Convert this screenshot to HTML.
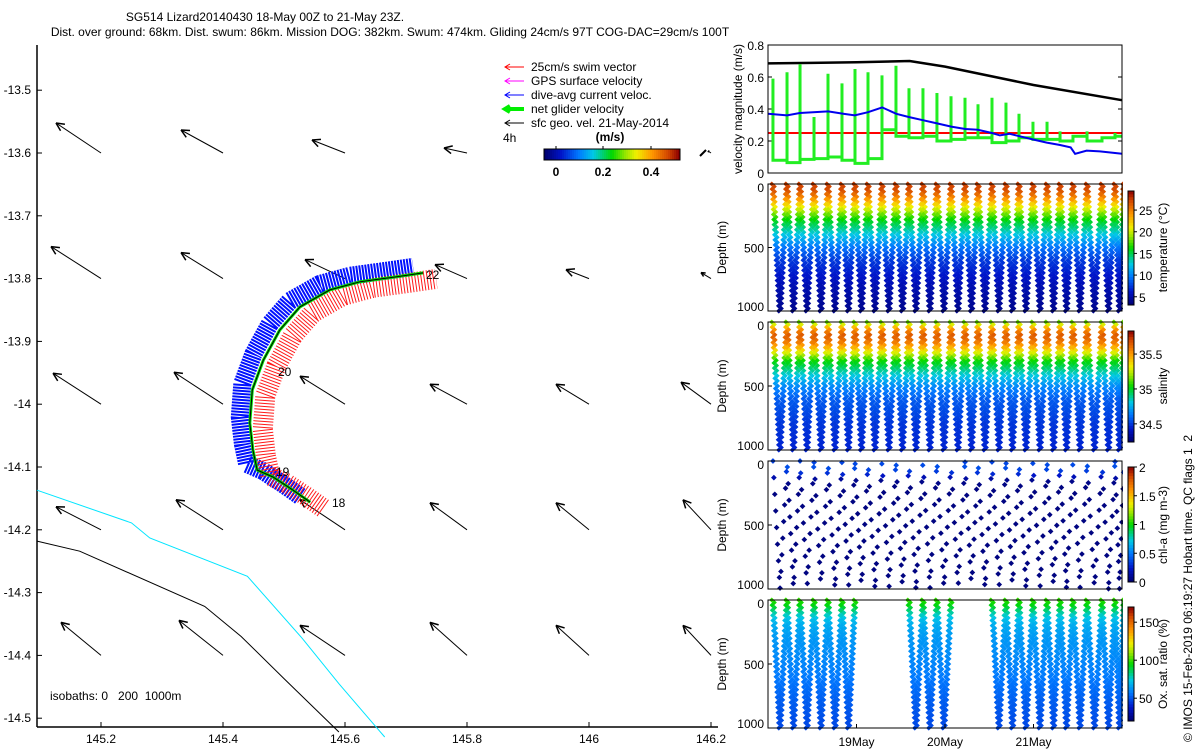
<!DOCTYPE html>
<html><head><meta charset="utf-8"><style>
html,body{margin:0;padding:0;background:#fff;}
svg{display:block;font-family:"Liberation Sans",sans-serif;}
text{font-size:12px;fill:#000;}
</style></head><body>
<svg id="fig" width="1200" height="750" viewBox="0 0 1200 750" xmlns="http://www.w3.org/2000/svg">
<text x="265" y="21" text-anchor="middle">SG514 Lizard20140430 18-May 00Z to 21-May 23Z.</text>
<text x="390" y="36" text-anchor="middle">Dist. over ground: 68km. Dist. swum: 86km. Mission DOG: 382km. Swum: 474km. Gliding 24cm/s 97T COG-DAC=29cm/s 100T</text>
<g id="map"></g>
<g id="right"></g>
<text transform="translate(1192,742) rotate(-90)">© IMOS 15-Feb-2019 06:19:27 Hobart time. QC flags 1&#160; 2</text>
</svg>
<script>
// ---------- MAP DATA ----------
const mapLonTicks=[145.2,145.4,145.6,145.8,146,146.2];
const mapLonLabels=["145.2","145.4","145.6","145.8","146","146.2"];
const mapLatTicks=[-13.5,-13.6,-13.7,-13.8,-13.9,-14,-14.1,-14.2,-14.3,-14.4,-14.5];
const geoLon=[145.2,145.4,145.6,145.8,146,146.2];
const geoLat=[-13.6,-13.8,-14.0,-14.2,-14.4];
const geoU=[[-0.18,-0.168,-0.132,-0.092,0,-0.012],[-0.2,-0.168,-0.16,-0.128,-0.092,-0.04],[-0.192,-0.196,-0.18,-0.148,-0.132,-0.12],[-0.18,-0.188,-0.18,-0.148,-0.132,-0.112],[-0.16,-0.176,-0.18,-0.148,-0.132,-0.112]];
const geoV=[[0.12,0.092,0.052,0.02,0,0.008],[0.128,0.104,0.076,0.056,0.036,0.024],[0.124,0.128,0.112,0.08,0.08,0.088],[0.092,0.12,0.12,0.108,0.108,0.12],[0.132,0.14,0.12,0.132,0.12,0.12]];
const trackLon=[145.543,145.515,145.482,145.456,145.449,145.444,145.448,145.466,145.493,145.526,145.575,145.625,145.685,145.728];
const trackLat=[-14.156,-14.137,-14.116,-14.105,-14.073,-14.030,-13.977,-13.930,-13.882,-13.845,-13.818,-13.805,-13.797,-13.791];
const iso200Lon=[145.095,145.25,145.28,145.44,145.53,145.59,145.665];
const iso200Lat=[-14.137,-14.189,-14.213,-14.274,-14.373,-14.445,-14.53];
const iso1000Lon=[145.095,145.165,145.37,145.43,145.5,145.59];
const iso1000Lat=[-14.218,-14.234,-14.322,-14.37,-14.437,-14.522];

// ---------- TIME SERIES DATA (days since 18 May 00Z) ----------
const diveT=[0.056,0.215,0.362,0.52,0.678,0.836,0.983,1.13,1.288,1.446,1.593,1.751,1.909,2.068,2.226,2.373,2.531,2.689,2.836,2.994,3.153,3.3,3.446,3.605,3.774,3.921];
const greenTop=[0.59,0.63,0.68,0.35,0.62,0.56,0.65,0.63,0.61,0.67,0.53,0.53,0.50,0.48,0.47,0.43,0.47,0.44,0.37,0.32,0.32,0.26,0.20,0.26,0.22,0.25];
const greenBase=[0.08,0.065,0.085,0.09,0.10,0.08,0.06,0.09,0.27,0.23,0.22,0.23,0.20,0.21,0.22,0.22,0.19,0.20,0.22,0.21,0.21,0.20,0.23,0.20,0.22,0.23];
const geoT=[0,0.5,1.0,1.6,2.0,3.0,4.0];
const geoSpeed=[0.685,0.688,0.692,0.70,0.665,0.55,0.455];
const dacT=[0,0.215,0.36,0.68,0.85,0.98,1.13,1.29,1.45,1.59,1.75,1.91,2.07,2.23,2.37,2.53,2.62,2.73,2.84,2.99,3.15,3.3,3.42,3.47,3.6,3.75,4.0];
const dacSpeed=[0.37,0.36,0.375,0.385,0.37,0.36,0.38,0.41,0.37,0.35,0.33,0.31,0.29,0.275,0.27,0.25,0.235,0.245,0.23,0.21,0.19,0.175,0.16,0.12,0.14,0.135,0.12];
const swimSpeed=0.25;
const profDepth=[0,50,100,150,200,250,300,400,500,600,800,1000];
const tempProf=[27.5,27,25,22.5,20,17.5,15.5,12.5,9.5,7.5,5.5,4.2];
const salProf=[35.15,35.5,35.65,35.6,35.45,35.25,35.05,34.85,34.68,34.58,34.5,34.46];
const chlProf=[0.35,0.4,0.3,0.08,0.05,0.05,0.05,0.05,0.05,0.05,0.05,0.05];
const oxProf=[100,92,80,72,68,66,64,62,60,58,52,48];
const oxDives=[0,1,2,3,4,5,10,11,12,16,17,18,19,20,21,22,23,24,25];
const dayTicks=[1,2,3];
const dayLabels=["19May","20May","21May"];

const NS="http://www.w3.org/2000/svg";
function mk(parent,tag,attrs){const e=document.createElementNS(NS,tag);for(const k in attrs)e.setAttribute(k,attrs[k]);parent.appendChild(e);return e;}
function txt(parent,x,y,s,anchor,extra){const t=mk(parent,'text',Object.assign({x:x,y:y,'text-anchor':anchor||'start'},extra||{}));t.textContent=s;return t;}
const CM=[[0,0,0,110],[0.12,0,20,200],[0.25,0,120,255],[0.36,0,200,230],[0.5,0,215,0],[0.6,150,230,0],[0.68,240,240,0],[0.8,255,150,0],[0.92,210,70,0],[1,140,0,0]];
function jet(v){v=Math.max(0,Math.min(1,v));for(let i=1;i<CM.length;i++){if(v<=CM[i][0]){const a=CM[i-1],b=CM[i],f=(v-a[0])/(b[0]-a[0]);return `rgb(${Math.round(a[1]+f*(b[1]-a[1]))},${Math.round(a[2]+f*(b[2]-a[2]))},${Math.round(a[3]+f*(b[3]-a[3]))})`;}}return 'rgb(140,0,0)';}
function interp(xs,ys,x){if(x<=xs[0])return ys[0];for(let i=1;i<xs.length;i++){if(x<=xs[i]){const f=(x-xs[i-1])/(xs[i]-xs[i-1]);return ys[i-1]+f*(ys[i]-ys[i-1]);}}return ys[ys.length-1];}

// ---------- MAP ----------
const map=document.getElementById('map');
const mx=lon=>101+(lon-145.2)*610;
const my=lat=>153+(-13.6-lat)*628;
const mL=37,mR=718,mT=45,mB=727;
mk(map,'line',{x1:mL,y1:mT,x2:mL,y2:mB,stroke:'#000','stroke-width':1.5});
mk(map,'line',{x1:mL,y1:mB,x2:mR,y2:mB,stroke:'#000','stroke-width':1.5});
mapLonTicks.forEach((v,i)=>{const x=mx(v);
 const tk=mk(map,'line',{x1:x,y1:mB,x2:x,y2:mB-5,stroke:'#000'});
 
 const t=txt(map,x,743,mapLonLabels[i],'middle');
 });
mapLatTicks.forEach(v=>{const y=my(v);
 const tk=mk(map,'line',{x1:mL,y1:y,x2:mL+5,y2:y,stroke:'#000'});
 
 const t=txt(map,31,y+4,String(v),'end');
 });
function pl(lons,lats){return lons.map((l,i)=>mx(l).toFixed(1)+','+my(lats[i]).toFixed(1)).join(' ');}
const i2=mk(map,'polyline',{points:pl(iso200Lon,iso200Lat),fill:'none',stroke:'#00e5ff','stroke-width':1});

const i1=mk(map,'polyline',{points:pl(iso1000Lon,iso1000Lat),fill:'none',stroke:'#000','stroke-width':1});

const gs=250;
geoLat.forEach((la,r)=>geoLon.forEach((lo,c)=>{
 const x0=mx(lo),y0=my(la),dx=geoU[r][c]*gs,dy=-geoV[r][c]*gs;
 const len=Math.hypot(dx,dy);if(len<1)return;
 const g=mk(map,'g',{});
 
 const x1=x0+dx,y1=y0+dy;mk(g,'line',{x1:x0,y1:y0,x2:x1,y2:y1,stroke:'#000','stroke-width':1});
 const a=Math.atan2(dy,dx),h=Math.min(9,len*0.4);
 [0.45,-0.45].forEach(s=>mk(g,'line',{x1:x1,y1:y1,x2:x1-h*Math.cos(a+s),y2:y1-h*Math.sin(a+s),stroke:'#000','stroke-width':1.5}));
}));
const tp=pl(trackLon,trackLat);
const dac=mk(map,'polyline',{points:tp,fill:'none',stroke:'#0010ff','stroke-width':18,'stroke-dasharray':'2 1','transform':'translate(-10,-6)','stroke-linejoin':'round'});

const sw=mk(map,'polyline',{points:tp,fill:'none',stroke:'#ff1a1a','stroke-width':20,'stroke-dasharray':'1 2','transform':'translate(13,6)','stroke-linejoin':'round'});

const ng=mk(map,'polyline',{points:tp,fill:'none',stroke:'#00e000','stroke-width':3});

mk(map,'polyline',{points:tp,fill:'none',stroke:'#000','stroke-width':1});
[['18',332,507],['19',276,476],['20',278,376],['22',426,279]].forEach(d=>{const t=txt(map,d[1],d[2],d[0]);});
txt(map,50,700,'isobaths: 0\u00a0\u00a0\u00a0200\u00a0\u00a01000m');
const lg=mk(map,'g',{});
const legItems=[['25cm/s swim vector','#ff0000',1],['GPS surface velocity','#ff00ff',1],['dive-avg current veloc.','#0000ff',1],['net glider velocity','#00ee00',4],['sfc geo. vel. 21-May-2014','#000',1]];
legItems.forEach((it,i)=>{const y=67+i*14;
 const e=mk(lg,'g',{});
 mk(e,'line',{x1:505,y1:y,x2:524,y2:y,stroke:it[1],'stroke-width':it[2]});
 mk(e,'polyline',{points:`${510},${y-3} ${505},${y} ${510},${y+3}`,fill:'none',stroke:it[1],'stroke-width':it[2]});
 txt(e,531,y+4,it[0]);});
txt(lg,503,142,'4h');
txt(lg,610,141,'(m/s)','middle',{'font-weight':'bold','font-size':'13px'});
const cbg=mk(lg,'g',{});
for(let i=0;i<68;i++)mk(cbg,'rect',{x:544+i*2,y:149,width:2.2,height:11,fill:jet(i/67)});
mk(cbg,'rect',{x:544,y:149,width:136,height:11,fill:'none',stroke:'#000'});
[['0',556],['0.2',603],['0.4',651]].forEach(d=>{mk(cbg,'line',{x1:d[1],y1:149,x2:d[1],y2:146,stroke:'#000'});txt(cbg,d[1],176,d[0],'middle',{'font-weight':'bold','font-size':'13px'});});
mk(map,'line',{x1:700,y1:156,x2:706,y2:150,stroke:'#000','stroke-width':2});

// ---------- RIGHT PANELS ----------
const R=document.getElementById('right');
const X0=768,X1=1122;const tx=t=>X0+t/4*(X1-X0);
function frame(g,top,bot){mk(g,'rect',{x:X0,y:top,width:X1-X0,height:bot-top,fill:'none',stroke:'#000','stroke-width':1});}
const vp=mk(R,'g',{});
const vT=45,vB=173;const vy=v=>vB-v/0.8*(vB-vT);
[0,0.2,0.4,0.6,0.8].forEach(v=>{const y=vy(v);mk(vp,'line',{x1:X0,y1:y,x2:X0+4,y2:y,stroke:'#000'});mk(vp,'line',{x1:X1,y1:y,x2:X1-4,y2:y,stroke:'#000'});const t=txt(vp,764,y+5,String(v),'end',{'font-size':'13px'});});
txt(vp,0,0,'velocity magnitude (m/s)','middle',{transform:`translate(742,${(vT+vB)/2}) rotate(-90)`,'font-size':'13px'});
const rl=mk(vp,'line',{x1:X0,y1:vy(swimSpeed),x2:X1,y2:vy(swimSpeed),stroke:'#ff0000','stroke-width':2});

const bl=mk(vp,'polyline',{points:geoT.map((t,i)=>tx(t)+','+vy(geoSpeed[i])).join(' '),fill:'none',stroke:'#000','stroke-width':2.5});

let gp=[];diveT.forEach((t,i)=>{const x=tx(t),xn=i<diveT.length-1?tx(diveT[i+1]):X1;
 if(i>0)gp.push(x+','+vy(greenBase[i-1]));gp.push(x+','+vy(greenTop[i]));gp.push(x+','+vy(greenBase[i]));gp.push(xn+','+vy(greenBase[i]));});
const gl=mk(vp,'polyline',{points:gp.join(' '),fill:'none',stroke:'#22ee22','stroke-width':3});

const dl=mk(vp,'polyline',{points:dacT.map((t,i)=>tx(t)+','+vy(dacSpeed[i])).join(' '),fill:'none',stroke:'#0000ee','stroke-width':2});

frame(vp,vT,vB);

const panels=[
 {name:'temperature',top:184,bot:311,prof:tempProf,vmin:3.1,vmax:29.4,ticks:[5,10,15,20,25],labels:['5','10','15','20','25'],cbT:191,cbB:305,title:'temperature (°C)',dives:null,sparse:false},
 {name:'salinity',top:322,bot:450,prof:salProf,vmin:34.24,vmax:35.83,ticks:[34.5,35,35.5],labels:['34.5','35','35.5'],cbT:331,cbB:442,title:'salinity',dives:null,sparse:false},
 {name:'chlorophyll',top:461,bot:589,prof:chlProf,vmin:0,vmax:2,ticks:[0,0.5,1,1.5,2],labels:['0','0.5','1','1.5','2'],cbT:467,cbB:582,title:'chl-a (mg m-3)',dives:null,sparse:true},
 {name:'oxygen',top:600,bot:728,prof:oxProf,vmin:20,vmax:170,ticks:[50,100,150],labels:['50','100','150'],cbT:607,cbB:721,title:'Ox. sat. ratio (%)',dives:oxDives,sparse:false}
];
panels.forEach(P=>{
 const g=mk(R,'g',{});
 const dy=d=>P.top+d/1000*(P.bot-P.top);
 const list=P.dives||diveT.map((_,i)=>i);
 list.forEach(i=>{
  const xs=tx(diveT[i]),xe=i<diveT.length-1?tx(diveT[i+1]):X1+2,xm=(xs+xe)/2;
  const legs=[[xs,xm,1],[xm,xe,-1]];
  legs.forEach((L,li)=>{
   if(P.sparse){
    const off=(i*47+li*83)%130;
    for(let d=off;d<=1000;d+=130){const x=L[2]>0?L[0]+(L[1]-L[0])*d/1000:L[0]+(L[1]-L[0])*(1-d/1000);
     const p=mk(g,'rect',{x:x-2,y:dy(d)-2,width:4,height:4,fill:jet((interp(profDepth,P.prof,d)-P.vmin)/(P.vmax-P.vmin)),transform:`rotate(45 ${x} ${dy(d)})`});
     }
   }else{
    for(let d=0;d<=1000;d+=20){const f=L[2]>0?d/1000:1-d/1000;const x=L[0]+(L[1]-L[0])*f+((d/20)%2?1.2:-1.2);
     const p=mk(g,'rect',{x:x-1.8,y:dy(d)-1.8,width:3.6,height:3.6,fill:jet((interp(profDepth,P.prof,d)-P.vmin)/(P.vmax-P.vmin)),transform:`rotate(45 ${x} ${dy(d)})`});
     }
   }
  });
 });
 mk(g,'rect',{x:X1+1,y:P.top-4,width:80,height:P.bot-P.top+8,fill:'#fff'});
 mk(g,'rect',{x:X0-30,y:P.top-4,width:29,height:P.bot-P.top+8,fill:'#fff'});
 frame(g,P.top,P.bot);
 [0,500,1000].forEach(d=>{mk(g,'line',{x1:X0,y1:dy(d),x2:X0+4,y2:dy(d),stroke:'#000'});const t=txt(g,764,dy(d)+(d==0?8:d==1000?0:5),String(d),'end',{'font-size':'13px'});});
 txt(g,0,0,'Depth (m)','middle',{transform:`translate(726,${(P.top+P.bot)/2}) rotate(-90)`,'font-size':'13px'});
 const cb=mk(g,'g',{});
 const n=40,h=(P.cbB-P.cbT)/n;
 for(let k=0;k<n;k++)mk(cb,'rect',{x:1128,y:P.cbB-(k+1)*h,width:6,height:h+0.5,fill:jet((k+0.5)/n)});
 mk(cb,'rect',{x:1128,y:P.cbT,width:6,height:P.cbB-P.cbT,fill:'none',stroke:'#000'});
 P.ticks.forEach((v,k)=>{const y=P.cbB-(v-P.vmin)/(P.vmax-P.vmin)*(P.cbB-P.cbT);mk(cb,'line',{x1:1134,y1:y,x2:1137,y2:y,stroke:'#000'});txt(cb,1139,y+5,P.labels[k],'start',{'font-size':'13px'});});
 txt(g,0,0,P.title,'middle',{transform:`translate(1167,${(P.top+P.bot)/2}) rotate(-90)`,'font-size':'13px'});
});
dayTicks.forEach((d,i)=>{const x=tx(d);mk(R,'line',{x1:x,y1:728,x2:x,y2:724,stroke:'#000'});const t=txt(R,x,746,dayLabels[i],'middle',{'font-size':'13px'});});
</script>
</body></html>
